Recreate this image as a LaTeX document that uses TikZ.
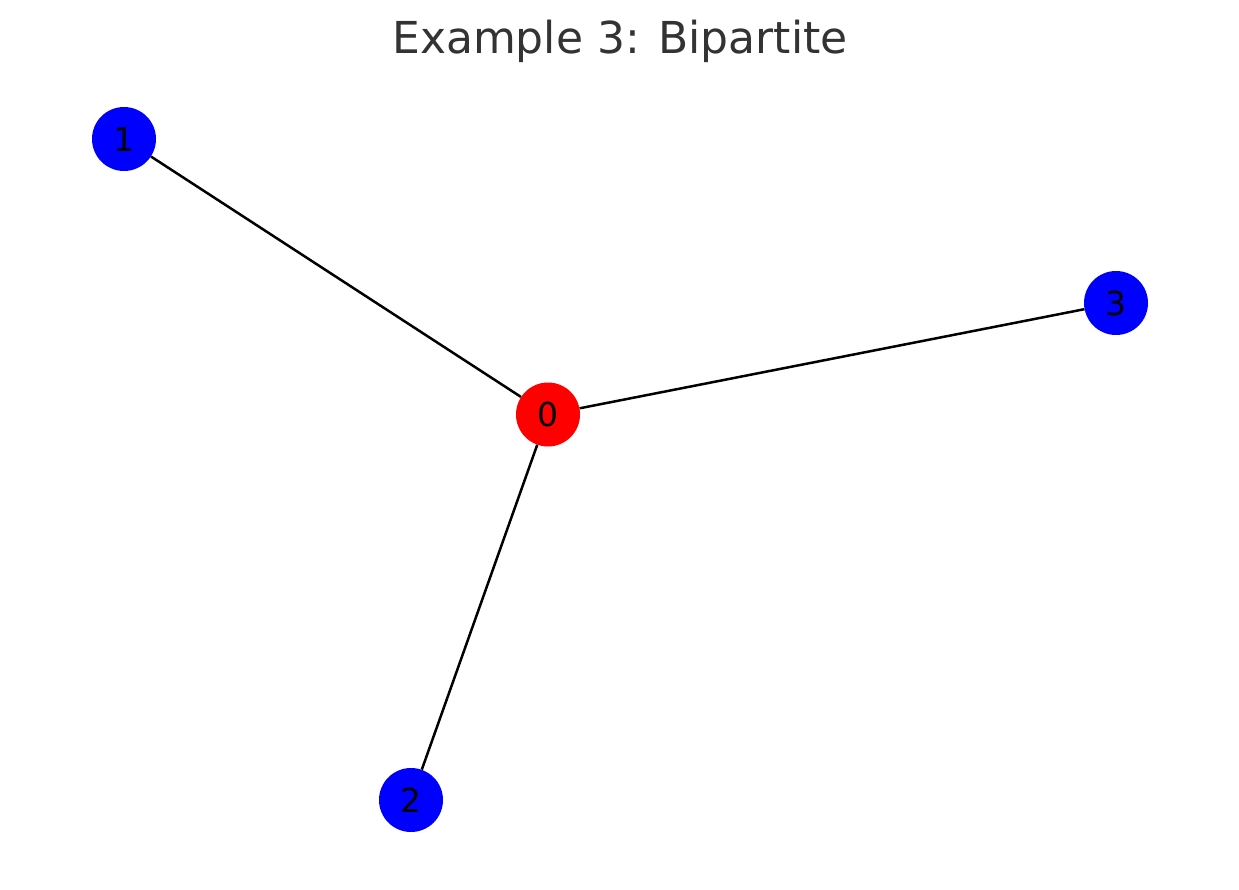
\documentclass[tikz,border=0pt]{standalone}
\usepackage{fontspec}
\setmainfont{DejaVu Sans}
\begin{document}
\begin{tikzpicture}[x=1pt,y=-1pt,
  vert/.style={circle,minimum size=64pt,inner sep=0pt,font=\fontsize{33}{33}\selectfont},
  edge/.style={line width=2.5pt,black}]
\useasboundingbox[fill=white] (0,0) rectangle (1239,890);
\node[anchor=base,text=black!80,font=\fontsize{44}{44}\selectfont] (title) at (620,54) {Example 3: Bipartite};
\node[vert,fill=red] (n0) at (548,414.5) {0};
\node[vert,fill=blue] (n1) at (124,139) {1};
\node[vert,fill=blue] (n2) at (411,800) {2};
\node[vert,fill=blue] (n3) at (1116,303) {3};
\draw[edge] (n0) -- (n1);
\draw[edge] (n0) -- (n2);
\draw[edge] (n0) -- (n3);
\end{tikzpicture}
\end{document}
